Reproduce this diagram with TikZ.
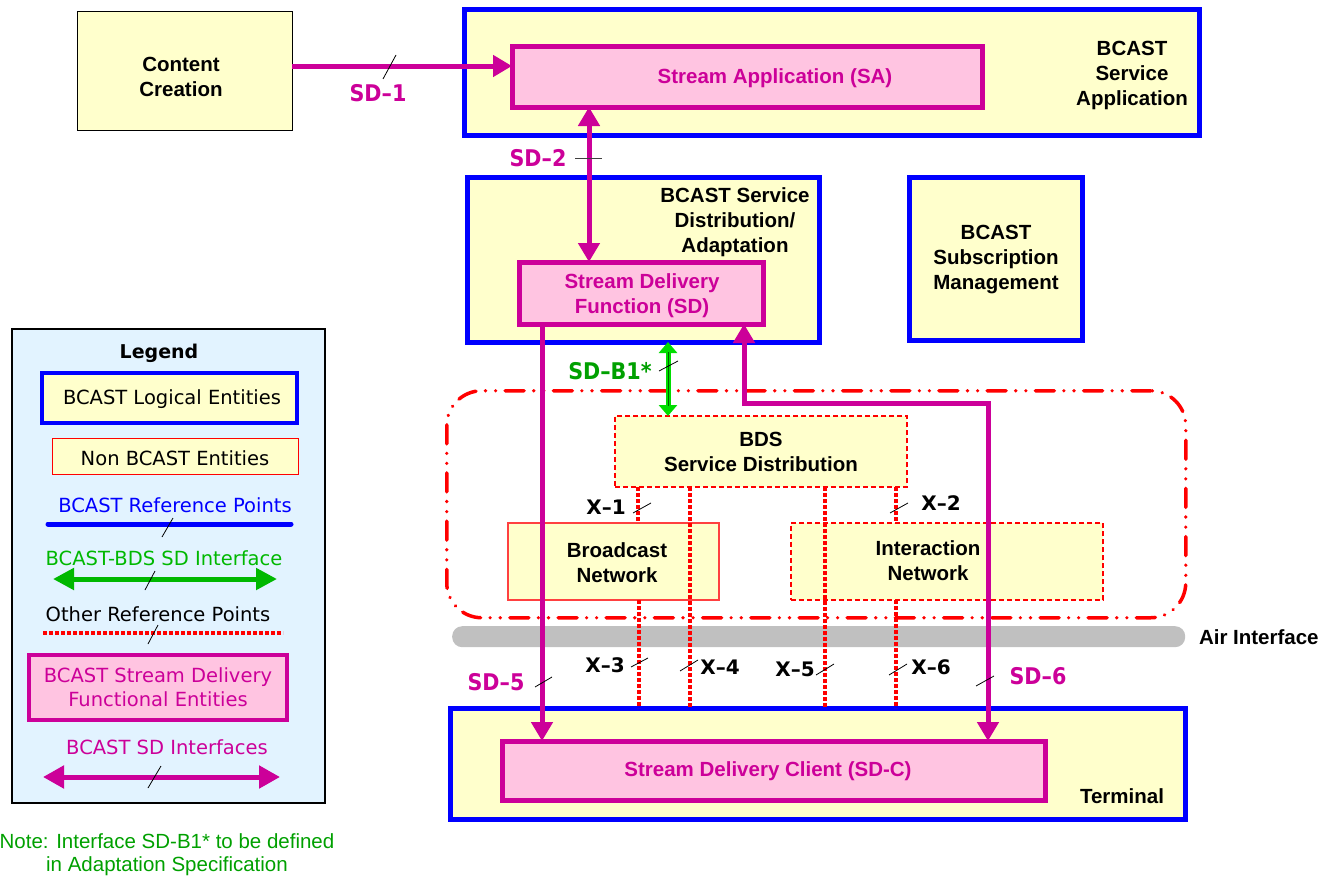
\documentclass[tikz,border=0pt]{standalone}
\usepackage{fontspec}
\setmainfont{Liberation Sans}
\newfontfamily\djv{DejaVu Sans}
\newfontfamily\djvc[FakeStretch=0.9]{DejaVu Sans}
\usetikzlibrary{arrows.meta,calc}
\definecolor{bblue}{HTML}{0000FF}
\definecolor{mag}{HTML}{CC0099}
\definecolor{pinkf}{HTML}{FFC4E1}
\definecolor{yel}{HTML}{FFFFCC}
\definecolor{grn}{HTML}{00A000}
\definecolor{lgrn}{HTML}{00DD00}
\definecolor{leggrn}{HTML}{00B800}
\definecolor{legbg}{HTML}{E2F3FF}
\definecolor{bred}{HTML}{FF0000}
\definecolor{airg}{HTML}{C0C0C0}
\tikzset{
 bx/.style={inner sep=0pt, outer sep=0pt, font=\bfseries\fontsize{20.5pt}{25pt}\selectfont, align=center},
 bbox/.style={bx, draw=bblue, line width=5pt, fill=yel, anchor=north west},
 mbox/.style={bx, draw=mag, line width=5pt, fill=pinkf, text=mag, anchor=north west},
 plainbox/.style={bx, draw=black, line width=1pt, fill=yel, anchor=north west},
 nbbox/.style={bx, draw=bred, line width=1.5pt, fill=yel, dash pattern=on 5pt off 3pt, anchor=north west},
 nbsolid/.style={bx, draw=bred!75, line width=1.2pt, fill=yel, anchor=north west},
 txt/.style={bx},
 mtxt/.style={bx, text=mag},
 lbl/.style={font=\djvc\bfseries\fontsize{23pt}{25pt}\selectfont, text=mag, inner sep=0pt},
 xlbl/.style={font=\djv\bfseries\fontsize{20pt}{24pt}\selectfont, text=black, inner sep=0pt},
 lgtxt/.style={font=\djv\fontsize{19.5pt}{24pt}\selectfont, inner sep=0pt, align=center},
 sdarr/.style={draw=mag, line width=5pt, -{Triangle[length=19pt,width=21pt]}},
 sdarrb/.style={draw=mag, line width=5pt, {Triangle[length=19pt,width=21pt]}-{Triangle[length=19pt,width=21pt]}},
 xref/.style={draw=bred, line width=3.2pt, dash pattern=on 3.5pt off 2.5pt},
 tk/.style={draw=black, line width=0.8pt},
}
\begin{document}
\begin{tikzpicture}[x=1pt,y=-1pt]
\useasboundingbox (0,0) rectangle (1323,878);

% ---------- main entities ----------
\node[plainbox, minimum width=215pt, minimum height=119pt] (cc) at (77,11) {};
\node[txt] (ccT) at (181,77) {Content\\Creation};
\node[bbox, minimum width=735pt, minimum height=126pt] (bsa) at (464,9) {};
\node[txt] (bsaT) at (1132,75) {BCAST\\Service\\Application};
\node[mbox, minimum width=470pt, minimum height=61pt] (sa) at (512,46) {};
\node[mtxt] (saT) at (775,78) {Stream Application (SA)};

\node[bbox, minimum width=352pt, minimum height=165pt] (dist) at (467,177) {};
\node[txt] (distT) at (735,222) {BCAST Service\\Distribution/\\Adaptation};
\node[mbox, minimum width=244pt, minimum height=62pt] (sdf) at (519,262) {};
\node[mtxt] (sdfT) at (642,296) {Stream Delivery\\Function (SD)};
\node[bbox, minimum width=173pt, minimum height=163pt] (sub) at (909,177) {};
\node[txt] (subT) at (996,260) {BCAST\\Subscription\\Management};

\node[draw=bred, line width=3.5pt, rounded corners=35pt, dash pattern=on 19pt off 9.5pt on 0.1pt off 10pt on 0.1pt off 9.5pt, line cap=round, minimum width=739pt, minimum height=227pt, anchor=north west, inner sep=0pt] (bdsgrp) at (445,389) {};
\node[nbbox, minimum width=292pt, minimum height=71pt] (bds) at (615,416) {BDS\\Service Distribution};
\node[nbsolid, minimum width=211pt, minimum height=77pt] (bn) at (508,523) {};
\node[txt] (bnT) at (617,563) {Broadcast\\Network};
\node[nbbox, minimum width=312pt, minimum height=77pt] (inw) at (791,523) {};
\node[txt] (inwT) at (928,561) {Interaction\\Network};

\node[fill=airg, rounded corners=10pt, minimum width=733pt, minimum height=21pt, anchor=north west, inner sep=0pt] (air) at (452,626) {};
\node[txt, anchor=west] (airT) at (1199,637) {Air Interface};

\node[bbox, minimum width=735pt, minimum height=111pt] (term) at (450,708) {};
\node[txt] (termT) at (1122,796) {Terminal};
\node[mbox, minimum width=543pt, minimum height=59pt] (sdc) at (502,741) {};
\node[mtxt] (sdcT) at (768,771) {Stream Delivery Client (SD-C)};

% ---------- X reference points ----------
\coordinate (x1) at ($(bds.south west)+(23,0)$);
\coordinate (x4) at ($(bds.south west)+(75,0)$);
\coordinate (x5) at ($(bds.south west)+(210,0)$);
\coordinate (x2) at ($(bds.south west)+(281,0)$);
\coordinate (x3) at ($(bn.south west)+(131,0)$);
\coordinate (x6) at ($(inw.south west)+(105,0)$);
\draw[xref] (x1) -- (x1 |- bn.north);
\draw[xref] (x4) -- (x4 |- term.north);
\draw[xref] (x5) -- (x5 |- term.north);
\draw[xref] (x2) -- (x2 |- inw.north);
\draw[xref] (x3) -- (x3 |- term.north);
\draw[xref] (x6) -- (x6 |- term.north);

% ---------- SD interfaces ----------
\draw[sdarr] ([yshift=4.5pt]cc.east) -- ([yshift=10.5pt]sa.west);
\coordinate (c2) at ($(sa.south west)+(77,0)$);
\draw[sdarrb] (c2) -- (c2 |- sdf.north);
\coordinate (c5) at ($(sdf.south west)+(23,0)$);
\draw[sdarr] (c5) -- (c5 |- sdc.north);
\coordinate (c6) at ($(sdf.south east)+(-19,0)$);
\coordinate (c6b) at (988,403);
\draw[sdarrb] (c6) -- (c6 |- c6b) -- (c6b) -- (c6b |- sdc.north);
\coordinate (cb1) at ($(dist.south west)+(201,0)$);
\draw[draw=lgrn, line width=5pt, {Triangle[length=11pt,width=18pt]}-{Triangle[length=11pt,width=18pt]}] (cb1) -- (cb1 |- bds.north);
\draw[draw=grn!60!black, line width=0.7pt, shorten >=10pt, shorten <=10pt] (cb1) -- (cb1 |- bds.north);

% ---------- labels ----------
\node[lbl] (l1) at (378,93) {SD–1};
\node[lbl] (l2) at (538,158) {SD–2};
\node[lbl, text=grn] (lb1) at (610,371) {SD–B1*};
\node[lbl] (l5) at (496,682) {SD–5};
\node[lbl] (l6) at (1038,676) {SD–6};
\node[xlbl] (lx1) at (606,507) {X–1};
\node[xlbl] (lx2) at (941,503) {X–2};
\node[xlbl] (lx3) at (605,665) {X–3};
\node[xlbl] (lx4) at (720,667) {X–4};
\node[xlbl] (lx5) at (795,669) {X–5};
\node[xlbl] (lx6) at (931,667) {X–6};

% ---------- ticks ----------
\draw[tk] (383,79) -- (396,55);
\draw[tk, draw=black!75] (575,158) -- (602,158);
\draw[tk] (659,371) -- (678,361);
\draw[tk] (633,513) -- (651,503);
\draw[tk] (890,513) -- (908,503);
\draw[tk] (535,687) -- (552,677);
\draw[tk] (631,667) -- (648,658);
\draw[tk] (680,671) -- (698,660);
\draw[tk] (816,675) -- (834,664);
\draw[tk] (889,675) -- (907,664);
\draw[tk] (976,686) -- (994,676);

% ---------- legend ----------
\node[draw=black, line width=2pt, fill=legbg, minimum width=313pt, minimum height=474pt, anchor=north west, inner sep=0pt] (leg) at (11,328) {};
\node[font=\djv\bfseries\fontsize{19pt}{22pt}\selectfont, inner sep=0pt] (legT) at (159,353) {Legend};
\node[bbox, line width=4pt, minimum width=255pt, minimum height=50pt] (lg1) at (42,373) {};
\node[lgtxt] (lg1T) at (172,399) {BCAST Logical Entities};
\node[bx, draw=bred, line width=1pt, fill=yel, anchor=north west, minimum width=246pt, minimum height=36pt] (lg2) at (52,438) {};
\node[lgtxt] (lg2T) at (175,458) {Non BCAST Entities};
\node[lgtxt, text=bblue] (lg3T) at (175,505) {BCAST Reference Points};
\coordinate (lg3a) at (48,524);
\coordinate (lg3b) at (291,524);
\draw[draw=bblue, line width=5pt, line cap=round] (lg3a) -- (lg3b);
\draw[tk] (162,537) -- (173,518);
\node[lgtxt, text=leggrn] (lg4T) at (164,558) {BCAST-BDS SD Interface};
\coordinate (lg4a) at (53,579);
\coordinate (lg4b) at (277,579);
\draw[draw=leggrn, line width=5pt, {Triangle[length=21pt,width=21pt]}-{Triangle[length=21pt,width=21pt]}] (lg4a) -- (lg4b);
\draw[tk] (145,590) -- (155,571);
\node[lgtxt] (lg5T) at (158,614) {Other Reference Points};
\coordinate (lg5a) at (43,633);
\coordinate (lg5b) at (283,633);
\draw[xref] (lg5a) -- (lg5b);
\draw[tk] (148,644) -- (158,625);
\node[mbox, line width=4pt, minimum width=258pt, minimum height=65pt, font=\djv\fontsize{19.5pt}{24pt}\selectfont] (lg6) at (29,655) {BCAST Stream Delivery\\Functional Entities};
\node[lgtxt, text=mag] (lg7T) at (167,747) {BCAST SD Interfaces};
\coordinate (lg7a) at (43,777);
\coordinate (lg7b) at (280,777);
\draw[draw=mag, line width=5pt, {Triangle[length=21pt,width=22pt]}-{Triangle[length=21pt,width=22pt]}] (lg7a) -- (lg7b);
\draw[tk] (148,788) -- (161,766);

\node[inner sep=0pt, align=center, text=grn, font=\fontsize{20.5pt}{23pt}\selectfont] (note) at (167,855) {Note: Interface SD-B1* to be defined\\in Adaptation Specification};
\end{tikzpicture}
\end{document}
